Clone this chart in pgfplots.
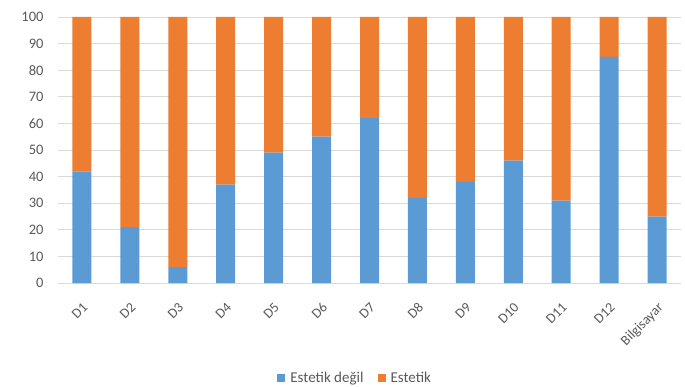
\documentclass[border=0pt]{standalone}
\usepackage{fontspec}
\setmainfont{Carlito}
\usepackage{pgfplots}
\pgfplotsset{compat=1.18}
\definecolor{cblue}{HTML}{5B9BD5}
\definecolor{corange}{HTML}{ED7D31}
\definecolor{tgrey}{HTML}{595959}
\definecolor{ggrey}{HTML}{D9D9D9}
\begin{document}
\begin{tikzpicture}
\useasboundingbox (0,0) rectangle (685pt,386pt);
\begin{axis}[
  at={(58pt,103pt)}, anchor=south west,
  scale only axis, width=623pt, height=266pt,
  ybar stacked, bar width=19pt,
  xmin=-0.5, xmax=12.5, ymin=0, ymax=100,
  xtick={0,...,12},
  xticklabels={D1,D2,D3,D4,D5,D6,D7,D8,D9,D10,D11,D12,Bilgisayar},
  xticklabel style={rotate=45, anchor=north east, font=\fontsize{14}{16}\selectfont, text=tgrey, inner sep=1pt, yshift=-12pt, xshift=-12pt},
  ytick={0,10,...,100},
  yticklabel style={font=\fontsize{14.5}{16}\selectfont, text=tgrey, xshift=-11pt},
  /pgf/number format/assume math mode=true,
  ymajorgrids, grid style={ggrey, line width=0.8pt},
  axis line style={draw=none},
  axis x line*=bottom, x axis line style={draw=ggrey, line width=0.8pt},
  axis y line*=left, y axis line style={draw=none},
  major tick length=0pt,
  legend style={at={(0.477,-0.357)}, anchor=center, draw=none, legend columns=-1, font=\fontsize{15}{17}\selectfont, text=tgrey, /tikz/every even column/.append style={column sep=12pt}, /tikz/every odd column/.append style={column sep=3pt}},
  legend image code/.code={\fill[#1] (0pt,-4pt) rectangle (8pt,4pt);},
]
\addplot[fill=cblue, draw=none] coordinates {(0,42) (1,21) (2,6) (3,37) (4,49) (5,55) (6,62) (7,32) (8,38) (9,46) (10,31) (11,85) (12,25)};
\addplot[fill=corange, draw=none] coordinates {(0,58) (1,79) (2,94) (3,63) (4,51) (5,45) (6,38) (7,68) (8,62) (9,54) (10,69) (11,15) (12,75)};
\legend{Estetik değil, Estetik}
\end{axis}
\end{tikzpicture}
\end{document}
